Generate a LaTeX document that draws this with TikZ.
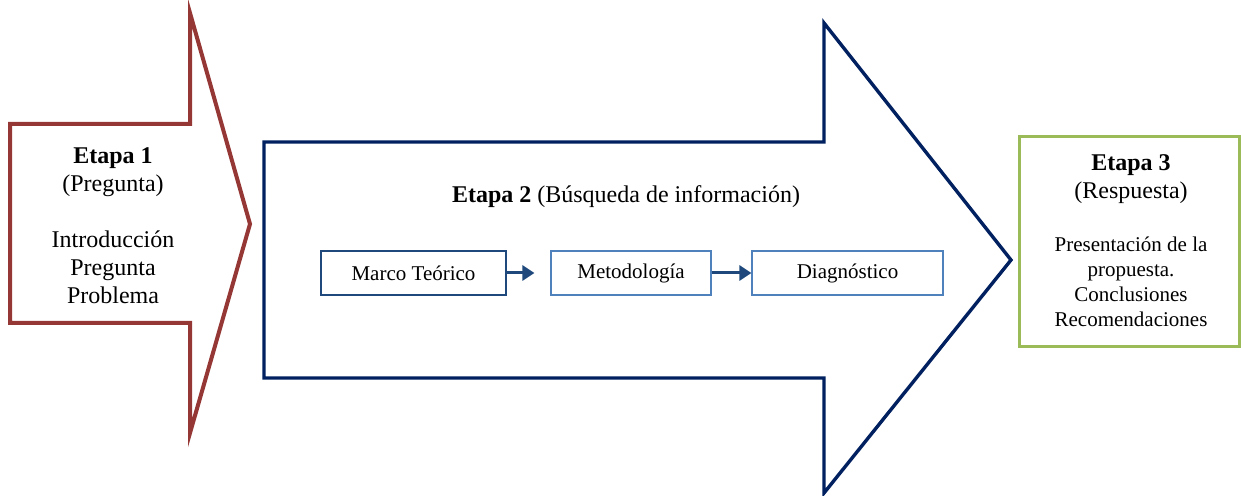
\documentclass[tikz,border=0pt]{standalone}
\usepackage{fontspec}
\setmainfont{Liberation Serif}
\usepackage{xcolor}
\usetikzlibrary{arrows.meta,positioning}

\definecolor{etapaRed}{HTML}{953735}
\definecolor{etapaBlue}{HTML}{002060}
\definecolor{etapaGreen}{HTML}{9BBB59}
\definecolor{pasoBlue}{HTML}{1F497D}
\definecolor{pasoLight}{HTML}{4F81BD}

\begin{document}
\begin{tikzpicture}[x=0.5pt,y=-0.5pt,
      paso/.style={draw=pasoLight,line width=0.6pt,minimum height=22pt,inner sep=0pt,font=\fontsize{10.5}{12}\selectfont},
      flecha/.style={draw=pasoBlue,line width=1.5pt,-{Triangle[length=6pt,width=7.5pt]}},
      texto/.style={align=center,inner sep=0pt}]
    \useasboundingbox (0,0) rectangle (1241,496);
    % etapa 1
    \draw[etapaRed,line width=2pt,line join=miter]
      (10,124) -- (190,124) -- (190,13) -- (250,224) -- (190,433) -- (190,323) -- (10,323) -- cycle;
    \node[texto,font=\fontsize{12}{14}\selectfont] (etapa1) at (113,226)
      {\textbf{Etapa 1}\\(Pregunta)\\[14pt]Introducción\\Pregunta\\Problema};
    % etapa 2
    \draw[etapaBlue,line width=1.7pt,line join=miter]
      (264,142) -- (824,142) -- (824,23) -- (1011,260) -- (824,493) -- (824,378) -- (264,378) -- cycle;
    \node[texto,font=\fontsize{12}{14}\selectfont] (etapa2) at (626,197)
      {\textbf{Etapa 2} (Búsqueda de información)};
    \node[paso,draw=pasoBlue,line width=1.2pt,minimum width=92.5pt] (marco) at (413.5,273) {Marco Teórico};
    \node[paso,minimum width=80pt] (metodo) at (631,273) {Metodología};
    \node[paso,minimum width=95.5pt] (diagnos) at (847.5,273) {Diagnóstico};
    \draw[flecha,shorten >=8pt] (marco) -- (metodo);
    \draw[flecha] (metodo) -- (diagnos);
    % etapa 3
    \node[draw=etapaGreen,line width=1.5pt,minimum width=110pt,minimum height=105pt,inner sep=0pt] (etapa3) at (1129,242) {};
    \node[texto,font=\fontsize{12}{14}\selectfont] (e3titulo) at (1131,179)
      {\textbf{Etapa 3}\\(Respuesta)};
    \node[texto,font=\fontsize{10.5}{12.5}\selectfont] (e3texto) at (1131,282)
      {Presentación de la\\propuesta.\\Conclusiones\\Recomendaciones};
\end{tikzpicture}
\end{document}
